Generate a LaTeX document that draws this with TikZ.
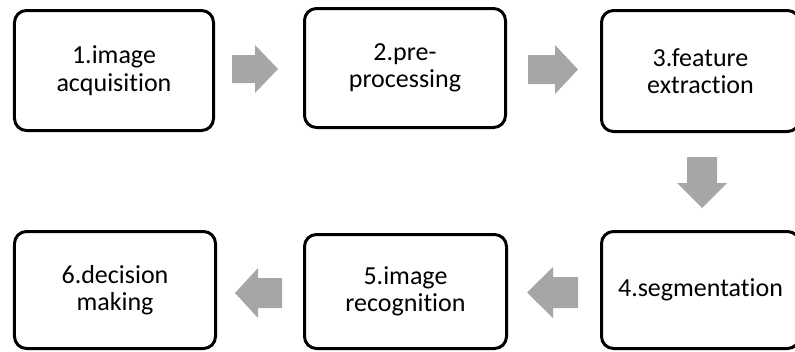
\documentclass[tikz,border=0pt]{standalone}
\usepackage{fontspec}
\setmainfont{Carlito}[RawFeature={-liga;-dlig;-clig}]
\begin{document}
\begin{tikzpicture}[x=1bp,y=-1bp,
  box/.style={draw=black,line width=3bp,rounded corners=12bp,fill=white,
    align=center,inner sep=0pt,font=\fontsize{26bp}{27.4bp}\selectfont,text=black},
  arrowfill/.style={fill=arrowgray,draw=none}]
\definecolor{arrowgray}{HTML}{A6A6A6}
\useasboundingbox (0,0) rectangle (795,351);
\clip (0,0) rectangle (795,351);
\node[box,minimum width=199bp,minimum height=120bp] (b1) at (114,70.5) {1.image\\acquisition};
\node[box,minimum width=201bp,minimum height=119bp] (b2) at (405,68) {2.pre-\\processing};
\node[box,minimum width=198bp,minimum height=121bp] (b3) at (700.5,71) {3.feature\\extraction};
\node[box,minimum width=198bp,minimum height=117bp] (b4) at (700.5,290) {4.segmentation};
\node[box,minimum width=202bp,minimum height=114bp] (b5) at (405.5,291.5) {5.image\\recognition};
\node[box,minimum width=201bp,minimum height=117bp] (b6) at (115,290) {6.decision\\making};
% block arrows
\fill[arrowfill] (232,55) -- (255,55) -- (255,45) -- (278,69) -- (255,93) -- (255,83) -- (232,83) -- cycle;
\fill[arrowfill] (528,55) -- (555,55) -- (555,45) -- (578,69.5) -- (555,94) -- (555,84) -- (528,84) -- cycle;
\fill[arrowfill] (687,157) -- (717,157) -- (717,183) -- (727,183) -- (702,208) -- (677,183) -- (687,183) -- cycle;
\fill[arrowfill] (578,277) -- (553,277) -- (553,267) -- (527,292.5) -- (553,318) -- (553,308) -- (578,308) -- cycle;
\fill[arrowfill] (282,278) -- (258,278) -- (258,268) -- (235,293) -- (258,318) -- (258,308) -- (282,308) -- cycle;
\end{tikzpicture}
\end{document}
